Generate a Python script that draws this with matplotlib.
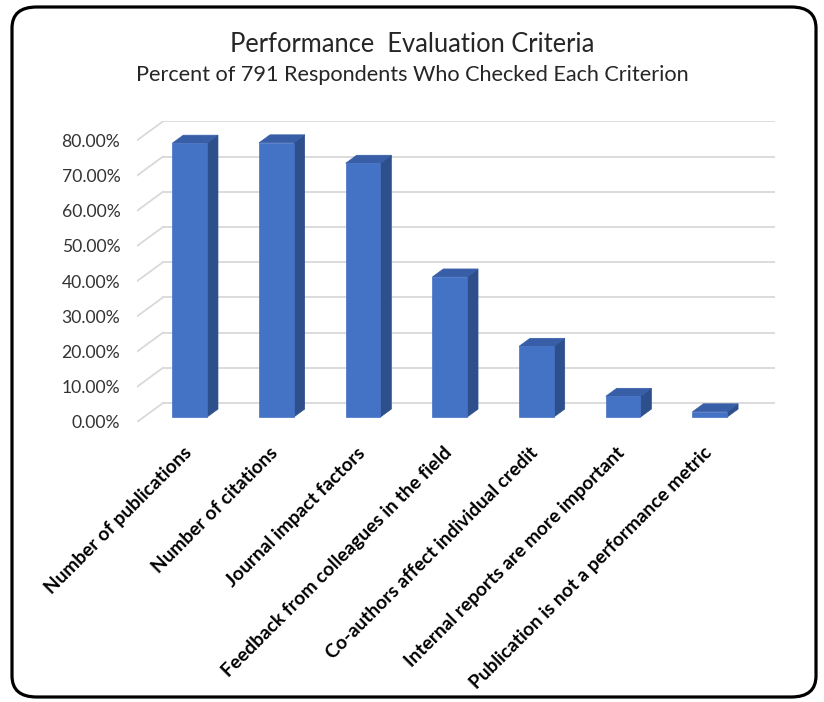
import matplotlib.pyplot as plt
from matplotlib.patches import Polygon, FancyBboxPatch

# data (percent of 791 respondents)
criteria = ["Number of publications",
            "Number of citations",
            "Journal impact factors",
            "Feedback from colleagues in the field",
            "Co-authors affect individual credit",
            "Internal reports are more important",
            "Publication is not a performance metric"]
percent = [77.8, 77.9, 72.1, 39.8, 20.1, 5.9, 1.5]
yticks = [0, 10, 20, 30, 40, 50, 60, 70, 80]

# fake 3D geometry (depth vector in data units)
DX, DY = 0.30, 5.4
F1, F2 = 0.26, 0.68      # bar front/back depth fractions
W = 0.40                 # bar width
X0, X1 = -0.53, 6.53     # floor edges at the front plane

front_col = "#4472C4"
side_col = "#2D4F8C"
top_col = "#375EA6"
grid_col = "#D9D9D9"
text_col = "#333333"

plt.rcParams['font.family'] = ['Lato', 'DejaVu Sans']

fig = plt.figure(figsize=(8.24, 7.02), dpi=100)
ax = fig.add_axes([137/824, (702-422)/702, 638/824, 301/702])

# walls: left wall diagonals + back wall gridlines
for v in yticks:
    ax.plot([X0, X0 + DX], [v, v + DY], color=grid_col, lw=1.3, zorder=1)
    ax.plot([X0 + DX, X1 + DX], [v + DY, v + DY], color=grid_col, lw=1.3, zorder=1)

# bars
d = F2 - F1
for i, v in enumerate(percent):
    xl = i + F1*DX - W/2
    xr = xl + W
    yb = F1*DY
    yt = v + F1*DY
    ax.add_patch(Polygon([(xr, yb), (xr + d*DX, yb + d*DY), (xr + d*DX, yt + d*DY), (xr, yt)],
                         closed=True, facecolor=side_col, edgecolor=side_col, lw=0.5, zorder=3))
    ax.add_patch(Polygon([(xl, yt), (xr, yt), (xr + d*DX, yt + d*DY), (xl + d*DX, yt + d*DY)],
                         closed=True, facecolor=top_col, edgecolor=top_col, lw=0.5, zorder=3))
    ax.add_patch(Polygon([(xl, yb), (xr, yb), (xr, yt), (xl, yt)],
                         closed=True, facecolor=front_col, edgecolor=front_col, lw=0.5, zorder=4))

ax.set_xlim(X0, X1 + DX)
ax.set_ylim(0, 85.5)
for s in ax.spines.values():
    s.set_visible(False)

ax.set_yticks(yticks)
ax.set_yticklabels(["%.2f%%" % t for t in yticks], fontsize=12.6, color=text_col)
ax.tick_params(axis='y', length=0, pad=12)

ax.set_xticks([i + F1*DX - 0.08 for i in range(len(criteria))])
ax.set_xticklabels(criteria, rotation=45, ha='right', rotation_mode='anchor',
                   fontsize=13.8, fontweight='bold', color='black')
ax.tick_params(axis='x', length=0, pad=16)

fig.text(0.5, 1 - 45/702, "Performance  Evaluation Criteria", ha='center', va='center',
         fontsize=18.4, color='#262626')
fig.text(0.5, 1 - 75/702, "Percent of 791 Respondents Who Checked Each Criterion",
         ha='center', va='center', fontsize=15.6, color='#262626')

# rounded black frame
fig.patches.append(FancyBboxPatch((12/824, 5/702), 804/824, 690/702,
                                  boxstyle="round,pad=0,rounding_size=0.03",
                                  transform=fig.transFigure, facecolor='none',
                                  edgecolor='black', lw=2.3))

fig.savefig("out.png", dpi=100)
